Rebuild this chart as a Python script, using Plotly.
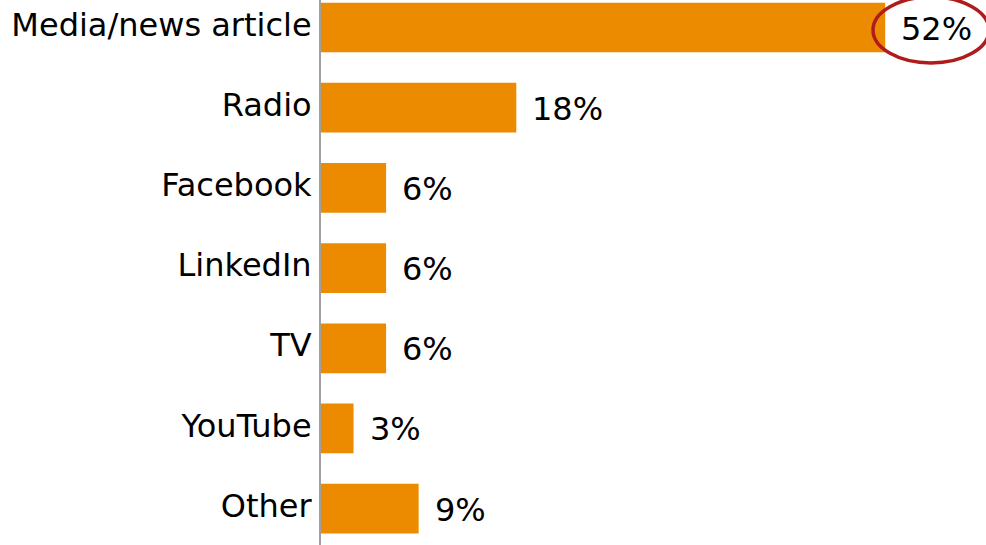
import plotly.graph_objects as go

categories = ["Media/news article", "Radio", "Facebook", "LinkedIn", "TV", "YouTube", "Other"]
values = [52, 18, 6, 6, 6, 3, 9]
labels = ["52%", "18%", "6%", "6%", "6%", "3%", "9%"]

BAR_COLOR = "#ED8B00"
FONT = "DejaVu Sans, Verdana, sans-serif"

fig = go.Figure()
fig.add_trace(go.Bar(
    x=values, y=categories, orientation="h",
    marker=dict(color=BAR_COLOR, line=dict(width=0)),
    width=0.62, hoverinfo="skip",
))

for v, c, t in zip(values, categories, labels):
    fig.add_annotation(x=v, y=c, text=t, showarrow=False, xanchor="left",
                       xshift=14, yshift=-1, font=dict(size=32, color="black", family=FONT))

# highlight ellipse around the top value
fig.add_shape(type="circle", xref="paper", yref="paper",
              x0=(873 - 321) / 665, x1=(989 - 321) / 665,
              y0=1 - 63 / 545, y1=1 + 3 / 545,
              line=dict(color="#B01C1C", width=3.5), layer="above")

fig.update_layout(
    width=986, height=545,
    margin=dict(l=321, r=0, t=0, b=0),
    paper_bgcolor="white", plot_bgcolor="white",
    showlegend=False,
    font=dict(family=FONT, size=32, color="black"),
    xaxis=dict(range=[0, 665 / 10.85], visible=False, fixedrange=True),
    yaxis=dict(
        categoryorder="array", categoryarray=categories,
        range=[6.453, -0.343],
        showline=True, linecolor="#A0A0A0", linewidth=2,
        showgrid=False, zeroline=False, ticks="",
        ticklabelstandoff=1, ticklabelshift=3, fixedrange=True,
        tickfont=dict(size=32, color="black", family=FONT),
    ),
)

fig.write_html("out.html", config={"responsive": False, "displayModeBar": False},
               post_script="document.body.style.margin='0px';document.body.style.overflow='hidden';")
